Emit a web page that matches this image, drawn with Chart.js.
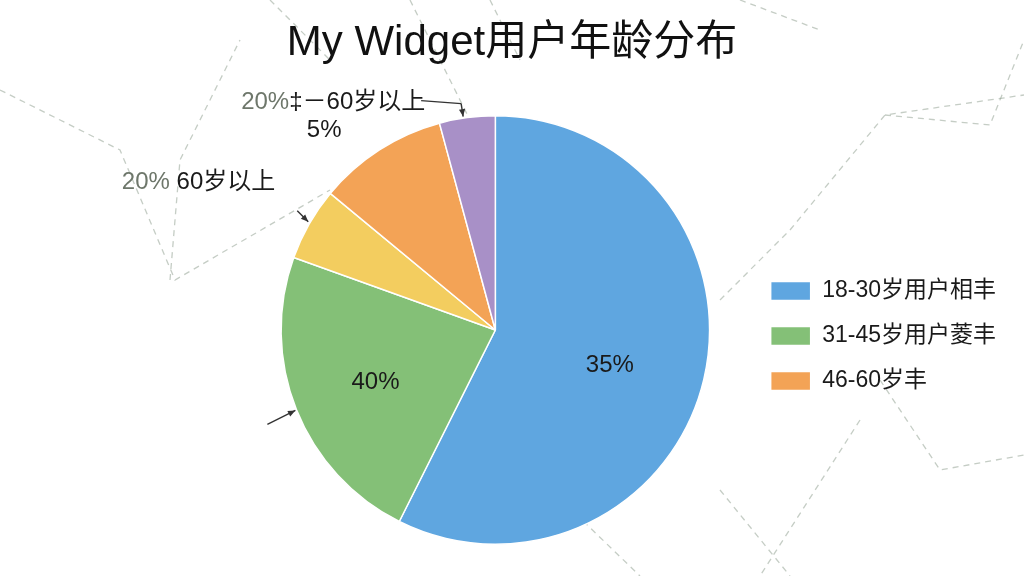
<!DOCTYPE html>
<html><head><meta charset="utf-8">
<script src="https://cdn.jsdelivr.net/npm/chart.js@4"></script>
<style>html,body{margin:0;padding:0;background:#fff}#w{width:1024px;height:576px}</style>
</head><body><div id="w"><canvas id="c"></canvas></div>
<script>
const titleText = "My Widget用户年龄分布";
const categories = ["18-30岁用户相丰", "31-45岁用户菱丰", "60岁以上", "46-60岁丰", "60岁以上 "];
const values = [57.4, 23.1, 5.5, 9.8, 4.2];
const sliceLabels = ["35%", "40%", "", "", ""];
const outerPct = ["", "", "20%", "", "20%"];
const outerText = ["", "", " 60岁以上", "", "‡－60岁以上"];
const colors = ["#5FA6E0", "#84C077", "#F3CD5F", "#F3A356", "#A890C7"];
const legendShown = [0, 1, 3];
const FONT = '"Liberation Sans", "Noto Sans CJK SC", sans-serif';

const bgLines = {
  id: 'bgLines',
  beforeDraw(chart) {
    const ctx = chart.ctx;
    ctx.save();
    ctx.strokeStyle = 'rgba(140,155,140,0.5)';
    ctx.lineWidth = 1.3;
    ctx.setLineDash([6, 5]);
    const paths = [
      [[0,90],[120,150],[175,280],[330,190]],
      [[170,280],[180,160],[240,40]],
      [[410,0],[470,120]],
      [[490,0],[520,60]],
      [[270,0],[330,60]],
      [[720,300],[790,230],[885,115],[1024,95]],
      [[885,115],[990,125],[1024,40]],
      [[880,380],[940,470],[1024,455]],
      [[720,490],[790,576]],
      [[860,420],[760,576]],
      [[520,460],[640,576]],
      [[740,0],[820,30]]
    ];
    for (const p of paths) {
      ctx.beginPath();
      ctx.moveTo(p[0][0], p[0][1]);
      for (let i = 1; i < p.length; i++) ctx.lineTo(p[i][0], p[i][1]);
      ctx.stroke();
    }
    ctx.restore();
    ctx.save();
    ctx.font = '42px ' + FONT;
    ctx.fillStyle = '#111';
    ctx.textAlign = 'center'; ctx.textBaseline = 'middle';
    ctx.fillText(titleText, chart.width / 2, 43);
    ctx.restore();
  }
};

function arrow(ctx, x1, y1, x2, y2) {
  ctx.beginPath(); ctx.moveTo(x1, y1); ctx.lineTo(x2, y2); ctx.stroke();
  const a = Math.atan2(y2 - y1, x2 - x1), L = 8;
  ctx.beginPath();
  ctx.moveTo(x2, y2);
  ctx.lineTo(x2 - L * Math.cos(a - 0.4), y2 - L * Math.sin(a - 0.4));
  ctx.lineTo(x2 - L * Math.cos(a + 0.4), y2 - L * Math.sin(a + 0.4));
  ctx.closePath(); ctx.fill();
}

const labelRadius = [0.56, 0.61, 0, 0, 0];
const labelsPlugin = {
  id: 'labelsPlugin',
  afterDatasetsDraw(chart) {
    const ctx = chart.ctx;
    const meta = chart.getDatasetMeta(0);
    ctx.save();
    ctx.textAlign = 'center'; ctx.textBaseline = 'middle';
    ctx.font = '24px ' + FONT;
    ctx.fillStyle = '#1a1a1a';
    meta.data.forEach((arc, i) => {
      if (!sliceLabels[i]) return;
      const mid = (arc.startAngle + arc.endAngle) / 2 + (i === 0 ? 0.07 : -0.03);
      const r = arc.outerRadius * labelRadius[i];
      ctx.fillText(sliceLabels[i], arc.x + r * Math.cos(mid), arc.y + r * Math.sin(mid));
    });
    const edge = (i) => {
      const arc = meta.data[i];
      const mid = (arc.startAngle + arc.endAngle) / 2;
      return [arc.x + arc.outerRadius * Math.cos(mid), arc.y + arc.outerRadius * Math.sin(mid)];
    };
    ctx.strokeStyle = '#333'; ctx.fillStyle = '#333'; ctx.lineWidth = 1.4;
    // green arrow
    let [gx, gy] = edge(1);
    arrow(ctx, gx - 29, gy + 15, gx - 1, gy + 1);
    // yellow arrow + label
    let [yx, yy] = edge(2);
    arrow(ctx, yx - 12, yy - 13, yx - 1, yy - 2);
    ctx.font = '24px ' + FONT;
    ctx.textAlign = 'left';
    let w1 = ctx.measureText(outerPct[2]).width, w2 = ctx.measureText(outerText[2]).width;
    let tx = yx - 34 - w1 - w2, ty = yy - 41;
    ctx.fillStyle = '#6E776B';
    ctx.fillText(outerPct[2], tx, ty);
    ctx.fillStyle = '#1a1a1a';
    ctx.fillText(outerText[2], tx + w1, ty);
    // purple arrow + label
    let [px, py] = edge(4);
    ctx.strokeStyle = '#333'; ctx.fillStyle = '#333';
    ctx.beginPath(); ctx.moveTo(px - 46, py - 17); ctx.lineTo(px - 6, py - 14); ctx.stroke();
    arrow(ctx, px - 6, py - 14, px - 4, py - 1);
    tx = px - 226; ty = py - 15;
    ctx.fillStyle = '#6E776B';
    ctx.fillText(outerPct[4], tx, ty);
    let w = ctx.measureText(outerPct[4]).width;
    ctx.fillStyle = '#1a1a1a';
    ctx.fillText(outerText[4], tx + w, ty);
    ctx.textAlign = 'center';
    ctx.fillText("5%", px - 143, py + 13);
    ctx.restore();
  }
};

new Chart(document.getElementById('c'), {
  type: 'pie',
  data: {
    labels: categories,
    datasets: [{ data: values, backgroundColor: colors, borderColor: '#ffffff', borderWidth: 1.5 }]
  },
  options: {
    responsive: true, maintainAspectRatio: false, animation: false,
    layout: { padding: { left: 242, right: 18, top: 115, bottom: 31 } },
    plugins: {
      title: { display: false },
      tooltip: { enabled: false },
      legend: {
        position: 'right',
        title: { display: true, text: ' ', font: { size: 10 }, padding: 0 },
        labels: {
          boxWidth: 40, boxHeight: 19, padding: 22, color: '#1a1a1a',
          font: { size: 23, family: FONT },
          filter: (item) => legendShown.includes(item.index)
        }
      }
    }
  },
  plugins: [bgLines, labelsPlugin]
});
</script></body></html>
